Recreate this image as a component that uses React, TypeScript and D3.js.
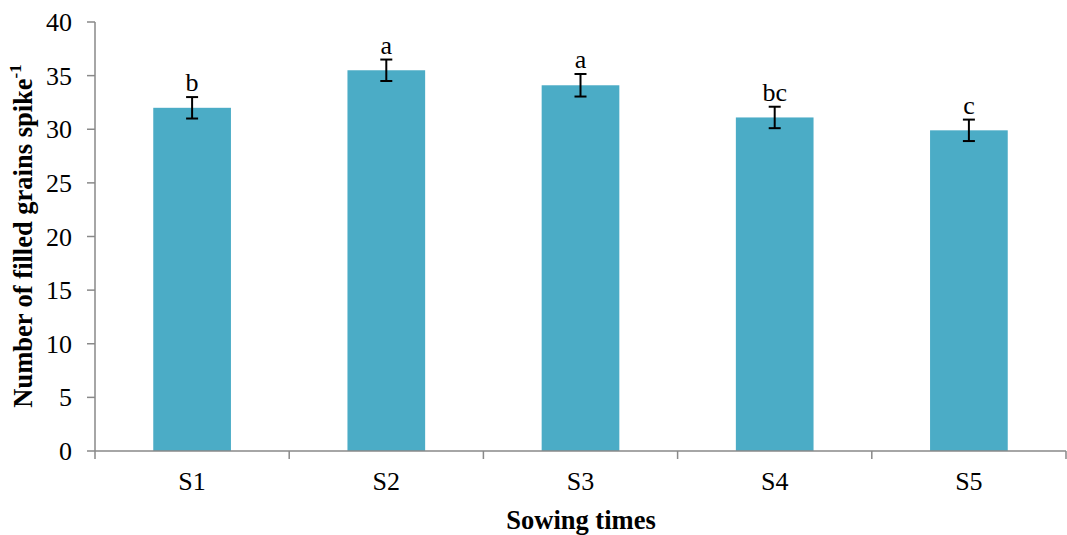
import React from "react";
import * as d3 from "d3";

const categories = ["S1", "S2", "S3", "S4", "S5"];
const means = [32.0, 35.5, 34.1, 31.1, 29.9];
const errors = [1.0, 1.0, 1.05, 1.0, 1.0];
const letters = ["b", "a", "a", "bc", "c"];
const yTicks = [0, 5, 10, 15, 20, 25, 30, 35, 40];

const W = 1067;
const H = 535;
const margin = { left: 95, right: 1, top: 22, bottom: 84 };
const FONT = "'Liberation Serif', 'Times New Roman', serif";
const BAR = "#4BACC6";
const AXIS = "#898989";

export default function App() {
  const innerW = W - margin.left - margin.right;
  const x = d3
    .scaleBand<string>()
    .domain(categories)
    .range([margin.left, margin.left + innerW])
    .paddingInner(0.6)
    .paddingOuter(0.3);
  const y = d3.scaleLinear().domain([0, 40]).range([451, 22]);
  const step = x.step();
  const bw = x.bandwidth();
  const y0 = y(0);

  return (
    <svg
      width={W}
      height={H}
      style={{ position: "absolute", left: 0, top: 0, background: "#fff" }}
      fontFamily={FONT}
    >
      {/* bars */}
      {categories.map((c, i) => (
        <rect
          key={c}
          x={x(c)!}
          y={y(means[i])}
          width={bw}
          height={y0 - y(means[i])}
          fill={BAR}
        />
      ))}
      {/* error bars */}
      {categories.map((c, i) => {
        const cx = x(c)! + bw / 2;
        const t = y(means[i] + errors[i]);
        const b = y(means[i] - errors[i]);
        return (
          <g key={c} stroke="#000" strokeWidth={2}>
            <line x1={cx} x2={cx} y1={t} y2={b} />
            <line x1={cx - 6} x2={cx + 6} y1={t} y2={t} />
            <line x1={cx - 6} x2={cx + 6} y1={b} y2={b} />
          </g>
        );
      })}
      {/* significance letters */}
      {categories.map((c, i) => (
        <text
          key={c}
          x={x(c)! + bw / 2}
          y={y(means[i] + errors[i]) - 6}
          textAnchor="middle"
          fontSize={26}
          fill="#000"
        >
          {letters[i]}
        </text>
      ))}
      {/* y axis */}
      <line x1={margin.left} x2={margin.left} y1={y(40)} y2={y0} stroke={AXIS} strokeWidth={1.5} />
      {yTicks.map((t) => (
        <g key={t}>
          <line x1={margin.left - 8} x2={margin.left} y1={y(t)} y2={y(t)} stroke={AXIS} strokeWidth={1.5} />
          <text
            x={72}
            y={y(t)}
            dy="0.35em"
            textAnchor="end"
            fontSize={26}
            fill="#000"
          >
            {t}
          </text>
        </g>
      ))}
      {/* x axis */}
      <line x1={margin.left} x2={margin.left + innerW} y1={y0} y2={y0} stroke={AXIS} strokeWidth={1.5} />
      {d3.range(categories.length + 1).map((k) => (
        <line
          key={k}
          x1={margin.left + k * step}
          x2={margin.left + k * step}
          y1={y0}
          y2={y0 + 8}
          stroke={AXIS}
          strokeWidth={1.5}
        />
      ))}
      {categories.map((c) => (
        <text
          key={c}
          x={x(c)! + bw / 2}
          y={490}
          textAnchor="middle"
          fontSize={26}
          fill="#000"
        >
          {c}
        </text>
      ))}
      {/* axis titles */}
      <text
        x={581}
        y={529}
        textAnchor="middle"
        fontSize={26.5}
        fontWeight="bold"
        fill="#000"
      >
        Sowing times
      </text>
      <text
        transform={`translate(32, 236) rotate(-90)`}
        textAnchor="middle"
        fontSize={26.5}
        fontWeight="bold"
        fill="#000"
      >
        Number of filled grains spike
        <tspan fontSize={17} dy={-11}>-1</tspan>
      </text>
    </svg>
  );
}
